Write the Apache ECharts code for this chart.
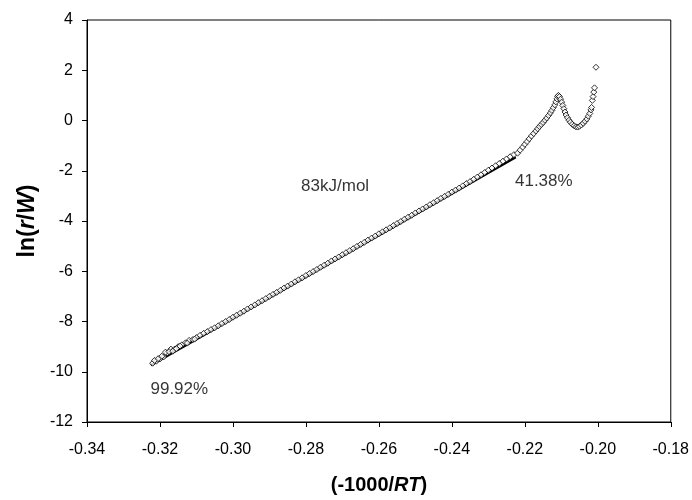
<!DOCTYPE html>
<html>
<head>
<meta charset="utf-8">
<script src="https://cdn.jsdelivr.net/npm/echarts@6/dist/echarts.min.js"></script>
<style>
  html, body { margin: 0; padding: 0; background: #fff; }
  #chart { width: 692px; height: 500px; }
</style>
</head>
<body>
<div id="chart"></div>
<script>
// linear region
const linX = [
  -0.322, -0.321, -0.320, -0.319, -0.318, -0.317, -0.316, -0.315, -0.314, -0.313,
  -0.312, -0.311, -0.310, -0.309, -0.308, -0.307, -0.306, -0.305, -0.304, -0.303,
  -0.302, -0.301, -0.300, -0.299, -0.298, -0.297, -0.296, -0.295, -0.294, -0.293,
  -0.292, -0.291, -0.290, -0.289, -0.288, -0.287, -0.286, -0.285, -0.284, -0.283,
  -0.282, -0.281, -0.280, -0.279, -0.278, -0.277, -0.276, -0.275, -0.274, -0.273,
  -0.272, -0.271, -0.270, -0.269, -0.268, -0.267, -0.266, -0.265, -0.264, -0.263,
  -0.262, -0.261, -0.260, -0.259, -0.258, -0.257, -0.256, -0.255, -0.254, -0.253,
  -0.252, -0.251, -0.250, -0.249, -0.248, -0.247, -0.246, -0.245, -0.244, -0.243,
  -0.242, -0.241, -0.240, -0.239, -0.238, -0.237, -0.236, -0.235, -0.234, -0.233,
  -0.232, -0.231, -0.230, -0.229, -0.228, -0.227, -0.226, -0.225, -0.224, -0.223
];
const linY = [
  -9.66, -9.58, -9.49, -9.41, -9.25, -9.10, -9.10, -9.00, -8.93, -8.85,
  -8.75, -8.72, -8.64, -8.55, -8.47, -8.40, -8.32, -8.25, -8.17, -8.08,
  -8.00, -7.92, -7.83, -7.75, -7.67, -7.59, -7.50, -7.42, -7.34, -7.25,
  -7.17, -7.09, -7.00, -6.92, -6.84, -6.76, -6.67, -6.59, -6.51, -6.42,
  -6.34, -6.26, -6.17, -6.09, -6.01, -5.93, -5.84, -5.76, -5.68, -5.59,
  -5.51, -5.43, -5.34, -5.26, -5.18, -5.10, -5.01, -4.93, -4.85, -4.76,
  -4.68, -4.60, -4.51, -4.43, -4.35, -4.27, -4.18, -4.10, -4.02, -3.93,
  -3.85, -3.77, -3.68, -3.60, -3.52, -3.44, -3.35, -3.27, -3.19, -3.10,
  -3.02, -2.94, -2.85, -2.77, -2.69, -2.60, -2.51, -2.43, -2.34, -2.25,
  -2.16, -2.07, -1.98, -1.89, -1.80, -1.71, -1.62, -1.53, -1.44, -1.36
];
// scattered points near the start
const startX = [-0.3215, -0.3205, -0.3195, -0.3185, -0.3175, -0.3165, -0.3155, -0.3145, -0.3125, -0.3105];
const startY = [-9.55, -9.48, -9.38, -9.22, -9.20, -9.18, -9.08, -8.98, -8.86, -8.70];
// curved region at the high end
const curveX = [
  -0.2220, -0.2213, -0.2206, -0.2200, -0.2194, -0.2188, -0.2182, -0.2176, -0.2170, -0.2165,
  -0.2160, -0.2155, -0.2150, -0.2145, -0.2140, -0.2135, -0.2130, -0.2126, -0.2122, -0.2118,
  -0.2115, -0.2112, -0.2110, -0.2108, -0.2105, -0.2102, -0.2099, -0.2096, -0.2093, -0.2090,
  -0.2087, -0.2083, -0.2079, -0.2075, -0.2070, -0.2065, -0.2060, -0.2055, -0.2050, -0.2045,
  -0.2040, -0.2035, -0.2030, -0.2026, -0.2022, -0.2019, -0.2017, -0.2015, -0.2013, -0.2011,
  -0.2009, -0.2005
];
const curveY = [
  -1.30, -1.18, -1.06, -0.95, -0.84, -0.73, -0.62, -0.52, -0.42, -0.33,
  -0.24, -0.16, -0.08, 0.01, 0.10, 0.20, 0.30, 0.40, 0.51, 0.62,
  0.74, 0.86, 0.96, 1.00, 0.95, 0.85, 0.73, 0.60, 0.47, 0.34,
  0.22, 0.11, 0.01, -0.07, -0.15, -0.21, -0.25, -0.26, -0.23, -0.18,
  -0.11, -0.03, 0.06, 0.17, 0.28, 0.42, 0.52, 0.80, 0.95, 1.13,
  1.30, 2.12
];
// fitted line (83 kJ/mol)
const fitX = [-0.3225, -0.2225];
const fitY = [-9.74, -1.46];

const xTicks = [-0.34, -0.32, -0.30, -0.28, -0.26, -0.24, -0.22, -0.20, -0.18];
const yTicks = [-12, -10, -8, -6, -4, -2, 0, 2, 4];

const notes = [
  { text: '83kJ/mol', x: -0.272, y: -2.62 },
  { text: '41.38%', x: -0.2148, y: -2.42 },
  { text: '99.92%', x: -0.3147, y: -10.69 }
];

const zip = (xs, ys) => xs.map((x, i) => [x, ys[i]]);
const pts = zip(linX, linY).concat(zip(startX, startY), zip(curveX, curveY));

const font = 'Liberation Sans, Arial, sans-serif';
const chart = echarts.init(document.getElementById('chart'));
chart.setOption({
  animation: false,
  grid: {
    left: 87, right: 18, top: 20, bottom: 74,
    show: true, borderColor: '#000', borderWidth: 1, backgroundColor: 'transparent'
  },
  xAxis: {
    type: 'value',
    min: xTicks[0], max: xTicks[xTicks.length - 1], interval: 0.02,
    splitLine: { show: false },
    axisLine: { onZero: false, lineStyle: { color: '#000' } },
    axisTick: { length: 5, lineStyle: { color: '#000' } },
    axisLabel: { color: '#000', fontFamily: font, fontSize: 16, margin: 20,
      formatter: v => v.toFixed(2) },
    name: '{b|(-1000/}{bi|RT}{b|)}',
    nameLocation: 'middle', nameGap: 53,
    nameTextStyle: {
      rich: {
        b: { fontFamily: font, fontWeight: 'bold', fontSize: 20, color: '#000' },
        bi: { fontFamily: font, fontWeight: 'bold', fontStyle: 'italic', fontSize: 20, color: '#000' }
      }
    }
  },
  yAxis: {
    type: 'value',
    min: yTicks[0], max: yTicks[yTicks.length - 1], interval: 2,
    splitLine: { show: false },
    axisLine: { onZero: false, lineStyle: { color: '#000' } },
    axisTick: { length: 5, lineStyle: { color: '#000' } },
    axisLabel: { color: '#000', fontFamily: font, fontSize: 16, margin: 14 },
    name: '{b|ln(}{bi|r}{b|/}{bi|W}{b|)}',
    nameLocation: 'middle', nameGap: 48, nameRotate: 90,
    nameTextStyle: {
      rich: {
        b: { fontFamily: font, fontWeight: 'bold', fontSize: 23, color: '#000' },
        bi: { fontFamily: font, fontWeight: 'bold', fontStyle: 'italic', fontSize: 23, color: '#000' }
      }
    }
  },
  series: [
    {
      type: 'line',
      data: zip(fitX, fitY),
      symbol: 'none',
      lineStyle: { color: '#000', width: 2.5 },
      z: 1
    },
    {
      type: 'scatter',
      data: pts,
      symbol: 'diamond',
      symbolSize: 6,
      itemStyle: { color: '#fff', borderColor: '#000', borderWidth: 1 },
      z: 2
    },
    {
      type: 'scatter',
      data: notes.map(n => ({ value: [n.x, n.y], label: { formatter: n.text } })),
      symbolSize: 0,
      label: {
        show: true, position: 'inside', color: '#000',
        fontFamily: font, fontSize: 17
      },
      z: 3
    }
  ]
});
</script>
</body>
</html>
